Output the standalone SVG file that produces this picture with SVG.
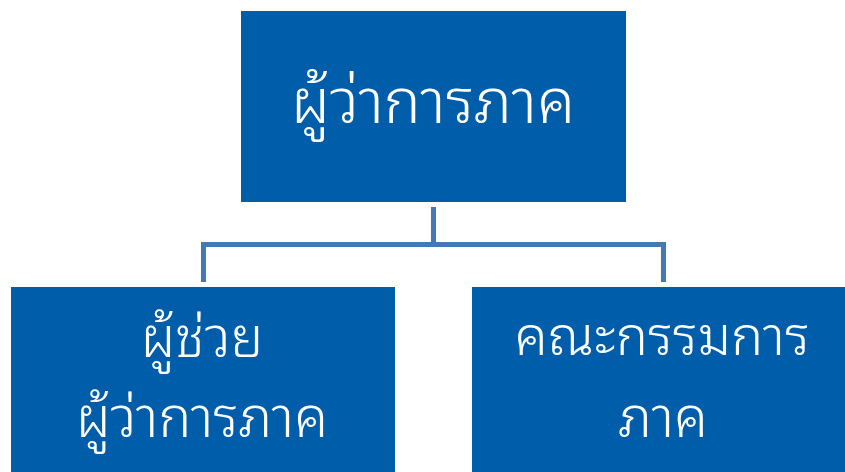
<svg xmlns="http://www.w3.org/2000/svg" width="845" height="472" viewBox="0 0 845 472">
<style>
.box{fill:#005DAA;}
.t{fill:#FFFFFF;font-family:"Noto Sans Thai Looped","Loma","Garuda","Noto Sans Thai","Noto Sans",sans-serif;font-weight:350;text-anchor:middle;}
.conn{fill:none;stroke:#437AB5;stroke-width:5;stroke-linejoin:miter;}
</style>
<rect width="845" height="472" fill="#FFFFFF"/>
<g id="connectors">
<path class="conn" d="M433.5 207 V244.5 M203.5 282 V244.5 H663.5 V282"/>
</g>
<g id="node-top">
<rect class="box" x="241" y="11" width="385" height="191"/>
<text class="t" x="433" y="123" font-size="62">ผู้ว่าการภาค</text>
</g>
<g id="node-left">
<rect class="box" x="11" y="287" width="384" height="185"/>
<text class="t" x="202" y="357" font-size="55">ผู้ช่วย</text>
<text class="t" x="202" y="437" font-size="55">ผู้ว่าการภาค</text>
</g>
<g id="node-right">
<rect class="box" x="472" y="287" width="373" height="185"/>
<text class="t" x="662" y="355" font-size="54">คณะกรรมการ</text>
<text class="t" x="663" y="437" font-size="55">ภาค</text>
</g>
</svg>
